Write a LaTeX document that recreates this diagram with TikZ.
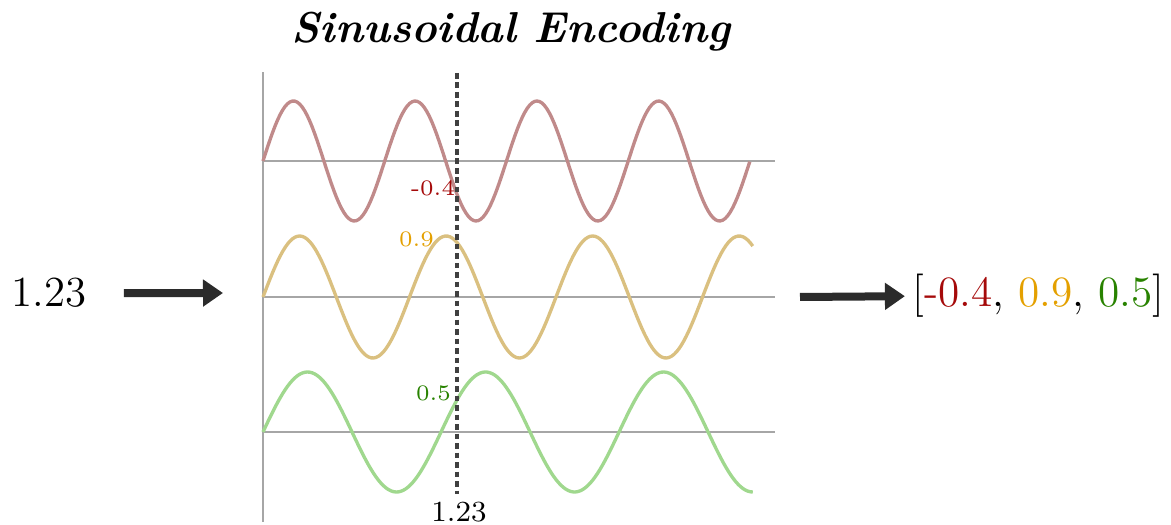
\documentclass[tikz,border=0pt]{standalone}
\usetikzlibrary{arrows.meta}
\definecolor{wavered}{RGB}{192,138,138}
\definecolor{waveyellow}{RGB}{218,192,128}
\definecolor{wavegreen}{RGB}{160,216,142}
\definecolor{valred}{RGB}{165,10,10}
\definecolor{valyellow}{RGB}{228,160,0}
\definecolor{valgreen}{RGB}{40,130,0}
\definecolor{arrowgray}{RGB}{43,43,43}
\begin{document}
\begin{tikzpicture}[
  axisline/.style={gray!70,line width=0.5pt},
  wave/.style={line width=0.95pt,samples=200},
  bigarrow/.style={arrowgray,line width=0.08cm,-{Triangle[length=0.2cm,width=0.26cm]}},
  val/.style={font=\fontsize{6.3}{7}\selectfont,inner sep=1pt},
  xline/.style={black!75,line width=0.9pt,dash pattern=on 1.6pt off 1.1pt}
]
  \useasboundingbox (0,0) rectangle (11.71,5.25);
  \node[font=\fontsize{12.3}{15}\selectfont\bfseries\itshape,anchor=base] (title) at (5.11,4.82) {Sinusoidal Encoding};
  % axes
  \draw[axisline] (2.63,0.03) -- (2.63,4.53);
  \foreach \y in {3.64,2.28,0.93} {
    \draw[axisline] (2.63,\y) -- (7.75,\y);
  }
  % waves
  \draw[wave,wavered] plot[domain=0:4.87] ({2.63+\x},{3.64+0.6*sin(295.7*\x)});
  \draw[wave,waveyellow] plot[domain=0:4.9] ({2.63+\x},{2.28+0.61*sin(245.7*\x)});
  \draw[wave,wavegreen] plot[domain=0:4.9] ({2.63+\x},{0.93+0.6*sin(202.2*\x)});
  % sampled position
  \node[font=\fontsize{8.3}{10}\selectfont,inner sep=2pt] (xval) at (4.59,0.13) {1.23};
  \coordinate (xtop) at (4.57,4.52);
  \draw[xline] (xtop) -- (xtop |- xval.north);
  \node[val,text=valred] (vred) at (4.33,3.37) {-0.4};
  \node[val,text=valyellow] (vyellow) at (4.165,2.86) {0.9};
  \node[val,text=valgreen] (vgreen) at (4.335,1.315) {0.5};
  % input and output
  \node[font=\fontsize{12.2}{15}\selectfont,anchor=base] (in) at (0.49,2.18) {1.23};
  \node[font=\fontsize{12.3}{15}\selectfont,anchor=base,inner sep=2pt] (out) at (10.385,2.18)
    {[\textcolor{valred}{-0.4}, \textcolor{valyellow}{0.9}, \textcolor{valgreen}{0.5}]};
  \coordinate (plotin) at (2.23,2.32);
  \coordinate (plotout) at (8.00,2.28);
  \draw[bigarrow] ([xshift=0.25cm]in.east) -- (plotin);
  \draw[bigarrow] (plotout) -- (out.west);
\end{tikzpicture}
\end{document}
